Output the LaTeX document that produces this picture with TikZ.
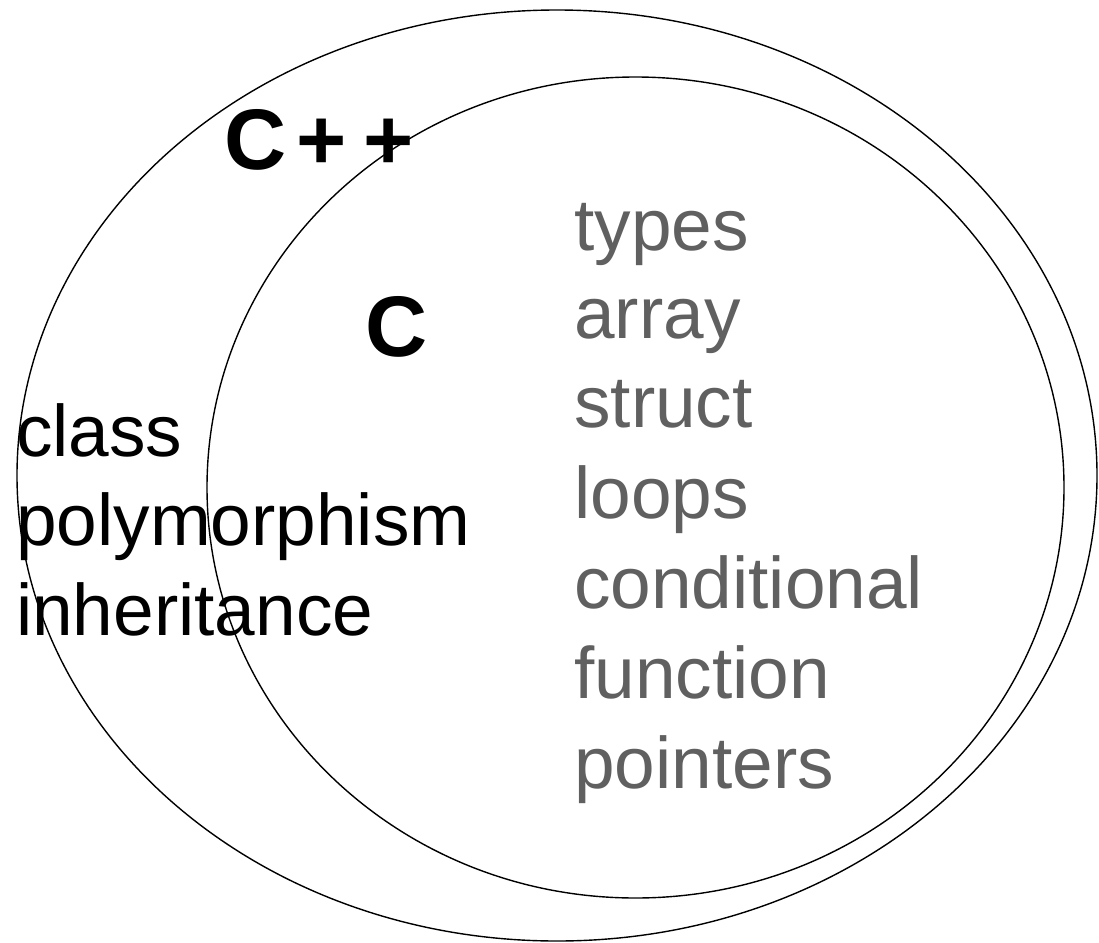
\documentclass[tikz,border=0pt]{standalone}
\usepackage{fontspec}
\setmainfont{Liberation Sans}
\definecolor{itemgray}{RGB}{96,96,96}
\begin{document}
\begin{tikzpicture}[x=1pt,y=-1pt,
  setline/.style={line width=1.4pt,black},
  bigbold/.style={anchor=base west,inner sep=0pt,font=\fontsize{86}{90}\selectfont\bfseries},
  cppitem/.style={anchor=base west,inner sep=0pt,font=\fontsize{73}{88}\selectfont,text=black},
  citem/.style={anchor=base west,inner sep=0pt,font=\fontsize{73}{88}\selectfont,text=itemgray}]
\useasboundingbox (0,0) rectangle (1099,942);
% sets
\draw[setline] (557,475.5) ellipse [x radius=540, y radius=465.5];
\draw[setline] (635.5,487.5) ellipse [x radius=428.5, y radius=410.5];
% set labels
\node[bigbold] (cpp) at (224,169) {C\kern10pt+\kern17pt+};
\node[bigbold] (c) at (365,356) {C};
% C++ only features
\node[cppitem] (class) at (16,456) {class};
\node[cppitem] (poly) at (16,545) {polymorphism};
\node[cppitem] (inher) at (16,635) {inheritance};
% C features
\node[citem] (types) at (574,250) {types};
\node[citem] (array) at (574,338) {array};
\node[citem] (struct) at (574,427) {struct};
\node[citem] (loops) at (574,518) {loops};
\node[citem] (cond) at (574,608) {conditional};
\node[citem] (func) at (574,698) {function};
\node[citem] (point) at (574,788) {pointers};
\end{tikzpicture}
\end{document}
